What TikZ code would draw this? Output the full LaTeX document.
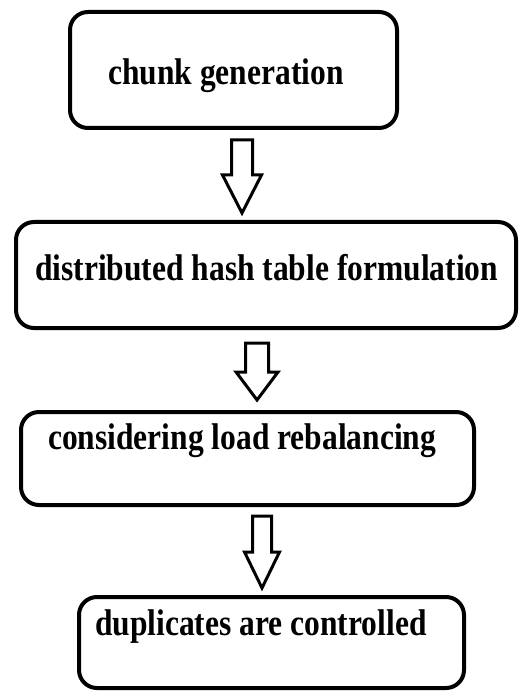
\documentclass[tikz,border=0pt]{standalone}
\usepackage{fontspec}
\usepackage{graphicx}
\setmainfont{Liberation Serif}
\newcommand{\tallbold}[1]{\scalebox{1}[1.18]{#1}}
\begin{document}
\begin{tikzpicture}[x=1pt,y=-1pt,
  stagebox/.style={draw=black,line width=4pt,rounded corners=18pt,fill=white},
  stagetext/.style={anchor=base west,inner sep=0pt,font=\fontsize{31.5}{31.5}\selectfont\bfseries},
  blockarrow/.style={draw=black,line width=3pt,line join=miter,fill=white}]
\useasboundingbox (0,0) rectangle (519,692);
% boxes
\draw[stagebox] (70,12) rectangle (397,128);
\draw[stagebox] (16,222) rectangle (516,328);
\draw[stagebox] (21,412) rectangle (474,505);
\draw[stagebox] (79,597) rectangle (464,688);
% texts
\node[stagetext] (t1) at (108,85) {\tallbold{chunk generation}};
\node[stagetext] (t2) at (35,280) {\tallbold{distributed hash table formulation}};
\node[stagetext] (t3) at (48,449) {\tallbold{considering load rebalancing}};
\node[stagetext] (t4) at (95,635) {\tallbold{duplicates are controlled}};
% block arrows
\draw[blockarrow] (231.5,140) -- (252.5,140) -- (252.5,175) -- (261.5,175) -- (242,213) -- (222.5,175) -- (231.5,175) -- cycle;
\draw[blockarrow] (245.5,343) -- (268.5,343) -- (268.5,372) -- (278,372) -- (257,400) -- (236,372) -- (245.5,372) -- cycle;
\draw[blockarrow] (252.5,516) -- (271.5,516) -- (271.5,552) -- (279.5,552) -- (262,588) -- (244.5,552) -- (252.5,552) -- cycle;
\end{tikzpicture}
\end{document}
